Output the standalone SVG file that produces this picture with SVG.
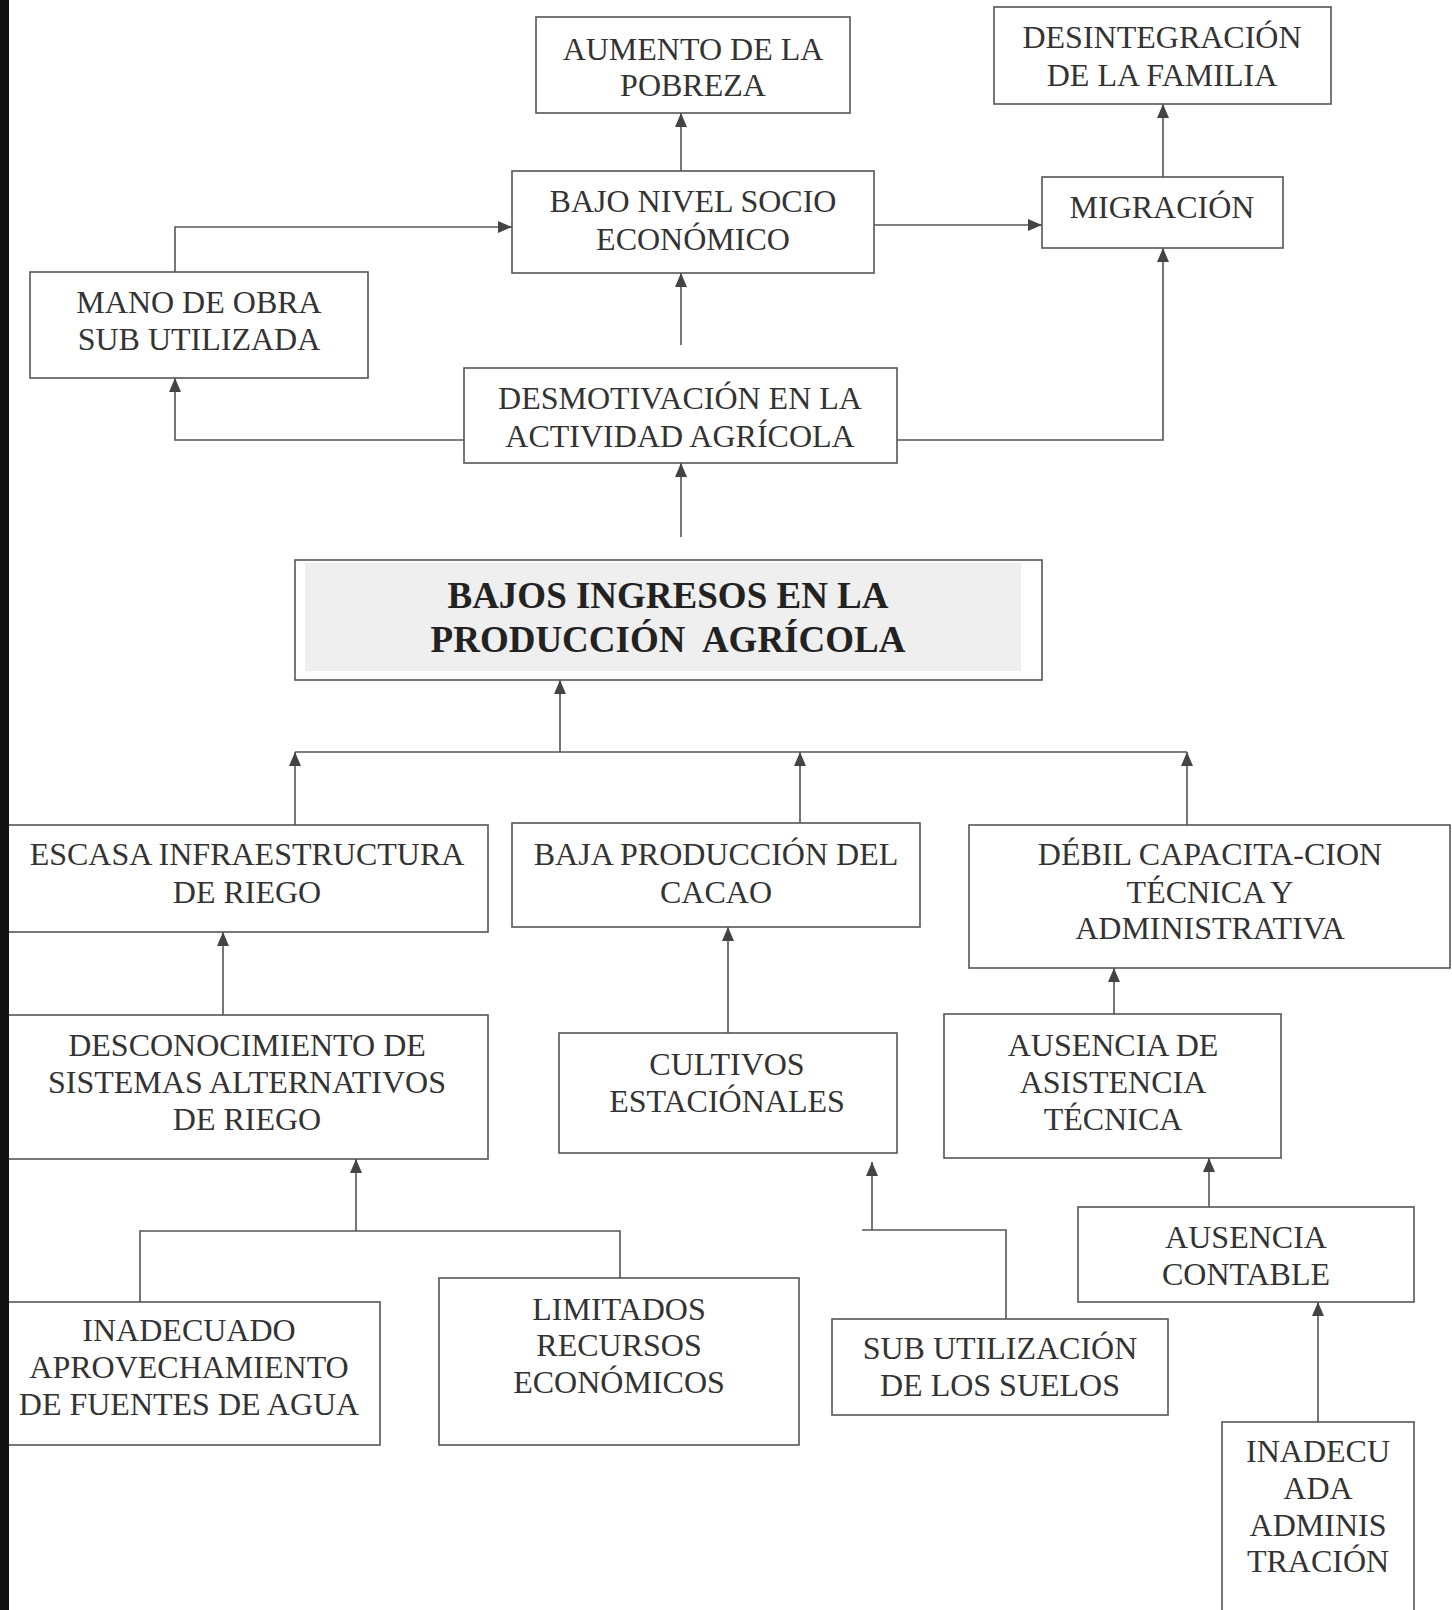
<svg xmlns="http://www.w3.org/2000/svg" width="1452" height="1610" viewBox="0 0 1452 1610">
<style>
.box{fill:#fff;stroke:#555;stroke-width:1.6}
.t{font-family:"Liberation Serif","Times New Roman",serif;font-size:32px;fill:#333;text-anchor:middle}
.tb{font-family:"Liberation Serif","Times New Roman",serif;font-size:37px;font-weight:bold;fill:#222;text-anchor:middle;white-space:pre}
.c{fill:none;stroke:#555;stroke-width:1.6}
</style>
<defs>
<marker id="ah" viewBox="0 0 14 12" refX="14" refY="6" markerWidth="14" markerHeight="12" markerUnits="userSpaceOnUse" orient="auto">
<path d="M0,0 L14,6 L0,12 z" fill="#444"/>
</marker>
</defs>
<rect width="1452" height="1610" fill="#fff"/>
<rect id="scan-edge" x="0" y="0" width="9" height="1610" fill="#111"/>

<g id="connectors">
<path class="c" d="M681,171 V113" marker-end="url(#ah)"/>
<path class="c" d="M681,345 V273" marker-end="url(#ah)"/>
<path class="c" d="M175,272 V227 H512" marker-end="url(#ah)"/>
<path class="c" d="M874,225 H1042" marker-end="url(#ah)"/>
<path class="c" d="M1163,177 V104" marker-end="url(#ah)"/>
<path class="c" d="M464,440 H175 V378" marker-end="url(#ah)"/>
<path class="c" d="M897,440 H1163 V248" marker-end="url(#ah)"/>
<path class="c" d="M681,537 V463" marker-end="url(#ah)"/>
<path class="c" d="M560,752 V680" marker-end="url(#ah)"/>
<path class="c" d="M295,752 H1187"/>
<path class="c" d="M295,825 V752" marker-end="url(#ah)"/>
<path class="c" d="M800,823 V752" marker-end="url(#ah)"/>
<path class="c" d="M1187,825 V752" marker-end="url(#ah)"/>
<path class="c" d="M223,1015 V932" marker-end="url(#ah)"/>
<path class="c" d="M728,1033 V927" marker-end="url(#ah)"/>
<path class="c" d="M1114,1014 V968" marker-end="url(#ah)"/>
<path class="c" d="M140,1302 V1231 H620 V1278"/>
<path class="c" d="M356,1231 V1159" marker-end="url(#ah)"/>
<path class="c" d="M1006,1322 V1230 H862"/>
<path class="c" d="M872,1230 V1162" marker-end="url(#ah)"/>
<path class="c" d="M1209,1207 V1158" marker-end="url(#ah)"/>
<path class="c" d="M1318,1422 V1302" marker-end="url(#ah)"/>
</g>

<g id="aumento">
<rect class="box" x="536" y="17" width="314" height="96"/>
<text class="t"><tspan x="693" y="60">AUMENTO DE LA</tspan><tspan x="693" y="96">POBREZA</tspan></text>
</g>
<g id="desintegracion">
<rect class="box" x="994" y="7" width="337" height="97"/>
<text class="t"><tspan x="1162" y="48">DESINTEGRACIÓN</tspan><tspan x="1162" y="86">DE LA FAMILIA</tspan></text>
</g>
<g id="bajo-nivel">
<rect class="box" x="512" y="171" width="362" height="102"/>
<text class="t"><tspan x="693" y="212">BAJO NIVEL SOCIO</tspan><tspan x="693" y="250">ECONÓMICO</tspan></text>
</g>
<g id="migracion">
<rect class="box" x="1042" y="177" width="241" height="71"/>
<text class="t" x="1162" y="218">MIGRACIÓN</text>
</g>
<g id="mano-obra">
<rect class="box" x="30" y="272" width="338" height="106"/>
<text class="t"><tspan x="199" y="313">MANO DE OBRA</tspan><tspan x="199" y="350">SUB UTILIZADA</tspan></text>
</g>
<g id="desmotivacion">
<rect class="box" x="464" y="368" width="433" height="95"/>
<text class="t"><tspan x="680" y="409">DESMOTIVACIÓN EN LA</tspan><tspan x="680" y="447">ACTIVIDAD AGRÍCOLA</tspan></text>
</g>
<g id="bajos-ingresos">
<rect class="box" x="295" y="560" width="747" height="120"/>
<rect x="305" y="563" width="716" height="108" fill="#efefef"/>
<text class="tb"><tspan x="668" y="608">BAJOS INGRESOS EN LA</tspan><tspan x="668" y="652">PRODUCCIÓN  AGRÍCOLA</tspan></text>
</g>
<g id="escasa">
<rect class="box" x="6" y="825" width="482" height="107"/>
<text class="t"><tspan x="247" y="865">ESCASA INFRAESTRUCTURA</tspan><tspan x="247" y="903">DE RIEGO</tspan></text>
</g>
<g id="baja-produccion">
<rect class="box" x="512" y="823" width="408" height="104"/>
<text class="t"><tspan x="716" y="865">BAJA PRODUCCIÓN DEL</tspan><tspan x="716" y="903">CACAO</tspan></text>
</g>
<g id="debil">
<rect class="box" x="969" y="825" width="481" height="143"/>
<text class="t"><tspan x="1210" y="865">DÉBIL CAPACITA-CION</tspan><tspan x="1210" y="903">TÉCNICA Y</tspan><tspan x="1210" y="939">ADMINISTRATIVA</tspan></text>
</g>
<g id="desconocimiento">
<rect class="box" x="6" y="1015" width="482" height="144"/>
<text class="t"><tspan x="247" y="1056">DESCONOCIMIENTO DE</tspan><tspan x="247" y="1093">SISTEMAS ALTERNATIVOS</tspan><tspan x="247" y="1130">DE RIEGO</tspan></text>
</g>
<g id="cultivos">
<rect class="box" x="559" y="1033" width="338" height="120"/>
<text class="t"><tspan x="727" y="1075">CULTIVOS</tspan><tspan x="727" y="1112">ESTACIÓNALES</tspan></text>
</g>
<g id="ausencia-asistencia">
<rect class="box" x="944" y="1014" width="337" height="144"/>
<text class="t"><tspan x="1113" y="1056">AUSENCIA DE</tspan><tspan x="1113" y="1093">ASISTENCIA</tspan><tspan x="1113" y="1130">TÉCNICA</tspan></text>
</g>
<g id="ausencia-contable">
<rect class="box" x="1078" y="1207" width="336" height="95"/>
<text class="t"><tspan x="1246" y="1248">AUSENCIA</tspan><tspan x="1246" y="1285">CONTABLE</tspan></text>
</g>
<g id="inadecuado">
<rect class="box" x="4" y="1302" width="376" height="143"/>
<text class="t"><tspan x="189" y="1341">INADECUADO</tspan><tspan x="189" y="1378">APROVECHAMIENTO</tspan><tspan x="189" y="1415">DE FUENTES DE AGUA</tspan></text>
</g>
<g id="limitados">
<rect class="box" x="439" y="1278" width="360" height="167"/>
<text class="t"><tspan x="619" y="1320">LIMITADOS</tspan><tspan x="619" y="1356">RECURSOS</tspan><tspan x="619" y="1393">ECONÓMICOS</tspan></text>
</g>
<g id="sub-utilizacion">
<rect class="box" x="832" y="1319" width="336" height="96"/>
<text class="t"><tspan x="1000" y="1359">SUB UTILIZACIÓN</tspan><tspan x="1000" y="1396">DE LOS SUELOS</tspan></text>
</g>
<g id="inadecuada-admin">
<rect class="box" x="1222" y="1422" width="192" height="200"/>
<text class="t"><tspan x="1318" y="1462">INADECU</tspan><tspan x="1318" y="1499">ADA</tspan><tspan x="1318" y="1536">ADMINIS</tspan><tspan x="1318" y="1572">TRACIÓN</tspan></text>
</g>
<rect x="0" y="0" width="9" height="1610" fill="#111"/>
</svg>
